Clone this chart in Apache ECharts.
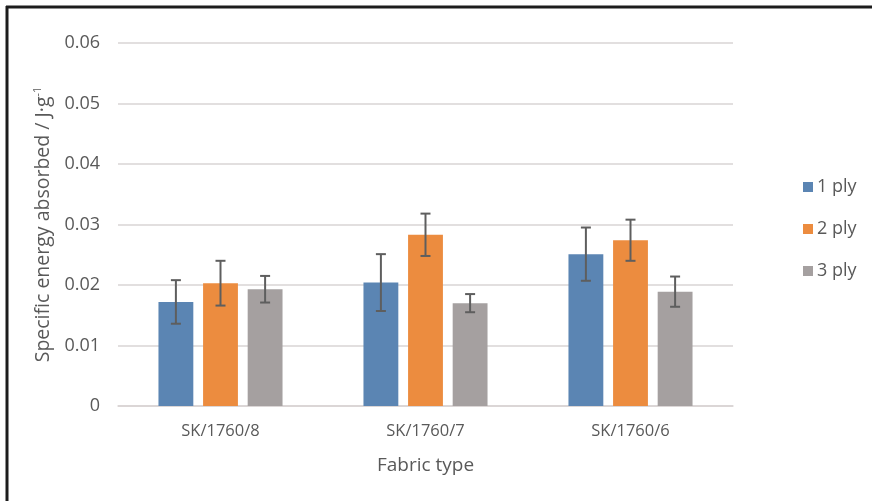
<!DOCTYPE html>
<html>
<head>
<meta charset="utf-8">
<script src="https://cdn.jsdelivr.net/npm/echarts@6/dist/echarts.min.js"></script>
<style>
  html, body { margin: 0; padding: 0; background: #fff; }
  #chart { width: 872px; height: 501px; }
</style>
</head>
<body>
<div id="chart"></div>
<script>
// Fabric types along the x axis
const categories = ['SK/1760/8', 'SK/1760/7', 'SK/1760/6'];
// Ply series names
const plyNames = ['1 ply', '2 ply', '3 ply'];
// Mean specific energy absorbed (J/g) per fabric, one array per ply count
const ply1 = [0.0172, 0.0204, 0.0251];
const ply2 = [0.0203, 0.0283, 0.0274];
const ply3 = [0.0193, 0.0170, 0.0189];
// Error bar half-widths (J/g)
const err1 = [0.0036, 0.0047, 0.0044];
const err2 = [0.0037, 0.0035, 0.0034];
const err3 = [0.0022, 0.0015, 0.0025];
// Y-axis ticks
const yTicks = [0, 0.01, 0.02, 0.03, 0.04, 0.05, 0.06];

const means = [ply1, ply2, ply3];
const errs = [err1, err2, err3];
const colors = ['#5b85b3', '#ec8c3f', '#a5a0a0'];

const BAR_W = 0.17;   // bar width as a fraction of the category band
const BAR_GAP = 0.28; // gap between bars as a fraction of bar width
const FONT = "'Open Sans', 'Noto Sans', sans-serif";
const TEXT = '#595959';

const chart = echarts.init(document.getElementById('chart'), null, { renderer: 'canvas' });

const barSeries = means.map((vals, i) => ({
  name: plyNames[i],
  type: 'bar',
  data: vals,
  barWidth: (BAR_W * 100) + '%',
  barGap: (BAR_GAP * 100) + '%',
  itemStyle: { color: colors[i] },
  emphasis: { disabled: true },
  z: 2
}));

const errorSeries = means.map((vals, i) => ({
  type: 'custom',
  name: plyNames[i] + ' error',
  z: 5,
  silent: true,
  data: vals.map((v, j) => [j, v - errs[i][j], v + errs[i][j]]),
  renderItem: function (params, api) {
    const band = api.size([1, 0])[0];
    const bw = band * BAR_W;
    const offset = (i - 1) * bw * (1 + BAR_GAP);
    const lo = api.coord([api.value(0), api.value(1)]);
    const hi = api.coord([api.value(0), api.value(2)]);
    const x = lo[0] + offset;
    const cap = 5;
    const style = { stroke: '#5e5e5e', lineWidth: 2 };
    return {
      type: 'group',
      children: [
        { type: 'line', shape: { x1: x, y1: hi[1], x2: x, y2: lo[1] }, style },
        { type: 'line', shape: { x1: x - cap, y1: hi[1], x2: x + cap, y2: hi[1] }, style },
        { type: 'line', shape: { x1: x - cap, y1: lo[1], x2: x + cap, y2: lo[1] }, style }
      ]
    };
  }
}));

chart.setOption({
  animation: false,
  backgroundColor: '#ffffff',
  textStyle: { fontFamily: FONT, color: TEXT },
  grid: { left: 118, right: 139, top: 43, bottom: 95 },
  legend: {
    orient: 'vertical',
    left: 798,
    top: 173,
    itemWidth: 10,
    itemHeight: 10,
    itemGap: 24,
    icon: 'rect',
    data: plyNames,
    textStyle: { fontFamily: FONT, fontSize: 18, color: TEXT, padding: [0, 0, 0, -1] }
  },
  xAxis: {
    type: 'category',
    data: categories,
    name: 'Fabric type',
    nameLocation: 'middle',
    nameGap: 50,
    nameTextStyle: { fontFamily: FONT, fontSize: 19, color: TEXT },
    axisLine: { show: true, lineStyle: { color: '#d9d4d4', width: 1.5 } },
    axisTick: { show: false },
    axisLabel: { fontFamily: FONT, fontSize: 16.5, color: TEXT, margin: 17 }
  },
  yAxis: {
    type: 'value',
    min: 0,
    max: 0.06,
    interval: 0.01,
    name: '{a|Specific energy absorbed / J·g}{s|-1}',
    nameLocation: 'middle',
    nameGap: 62,
    nameRotate: 90,
    nameTextStyle: {
      rich: {
        a: { fontFamily: FONT, fontSize: 19.5, color: TEXT },
        s: { fontFamily: FONT, fontSize: 11, color: TEXT, padding: [0, 0, 12, 0] }
      }
    },
    axisLine: { show: false },
    axisTick: { show: false },
    splitLine: { lineStyle: { color: '#d9d4d4', width: 1.5 } },
    axisLabel: {
      fontFamily: FONT,
      fontSize: 18,
      color: TEXT,
      margin: 18,
      formatter: function (v) {
        const t = yTicks.find(k => Math.abs(k - v) < 1e-9);
        return t === 0 ? '0' : (t !== undefined ? t.toFixed(2) : '');
      }
    }
  },
  graphic: [
    // frame edges along the top and left
    { type: 'line', shape: { x1: 6, y1: 7, x2: 872, y2: 7 }, style: { stroke: '#1c1c1c', lineWidth: 3 }, silent: true },
    { type: 'line', shape: { x1: 7, y1: 6, x2: 7, y2: 501 }, style: { stroke: '#1c1c1c', lineWidth: 3 }, silent: true }
  ],
  series: barSeries.concat(errorSeries)
});
</script>
</body>
</html>
